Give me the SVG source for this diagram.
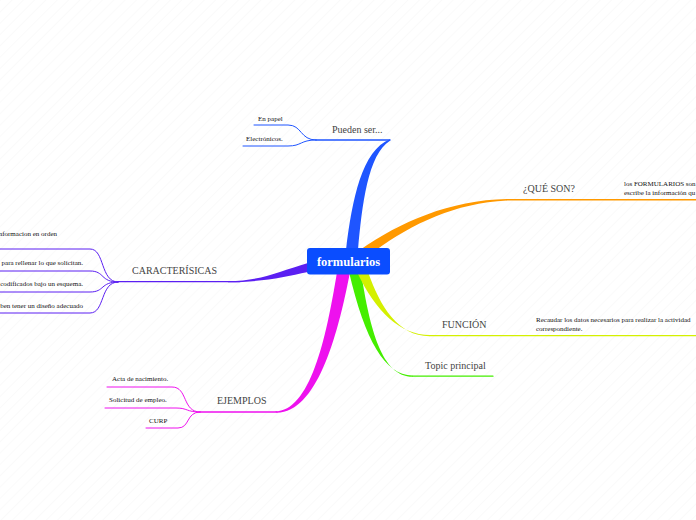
<svg xmlns="http://www.w3.org/2000/svg" width="696" height="520" viewBox="0 0 696 520">
<defs>
<pattern id="bg" width="8" height="8" patternUnits="userSpaceOnUse" patternTransform="rotate(45)">
<line x1="0" y1="0" x2="0" y2="8" stroke="#f5f5f5" stroke-width="1"/>
</pattern>
</defs>
<style>
.lbl{font-family:"Liberation Serif","Times New Roman",serif;font-size:10px;fill:#444}
.sub{font-family:"Liberation Serif","Times New Roman",serif;font-size:7px;fill:#111}
.ln{fill:none;stroke-linecap:round}
</style>
<rect width="696" height="520" fill="#fff"/>
<rect width="696" height="520" fill="url(#bg)"/>
<g id="connectors">
<path d="M346,250 C352,200 362,150 390,139.3 L390,140.7 C368,154 362,205 358,250 Z" fill="#1f55ff"/>
<path class="ln" d="M316,140 L390,140" stroke="#1f55ff" stroke-width="1.5"/>
<path class="ln" d="M316,140 C300,140 302,125 288,125 L254,125" stroke="#1f55ff" stroke-width="1"/>
<path class="ln" d="M316,140 C300,140 302,146 288,146 L243,146" stroke="#1f55ff" stroke-width="1"/>
<path d="M360,250 C400,222 450,200 507,199 L507,200.5 C455,203 412,224 376,250 Z" fill="#ff9900"/>
<path class="ln" d="M507,199.7 L696,199.7" stroke="#ff9900" stroke-width="1.4"/>
<path d="M308,263 C280,271 262,281 228,281 L228,282.2 C262,282.2 284,277 308,272 Z" fill="#5b1ff2"/>
<path class="ln" d="M118,281.6 L240,281.6" stroke="#5b1ff2" stroke-width="1.3"/>
<path class="ln" d="M118,282 C100,282 105,249 90,249 L0,249" stroke="#5b1ff2" stroke-width="1"/>
<path class="ln" d="M118,282 C100,282 105,271 90,271 L0,271" stroke="#5b1ff2" stroke-width="1"/>
<path class="ln" d="M118,282 C100,282 105,292 90,292 L0,292" stroke="#5b1ff2" stroke-width="1"/>
<path class="ln" d="M118,282 C100,282 105,313 90,313 L0,313" stroke="#5b1ff2" stroke-width="1"/>
<path d="M337,272 C326,340 310,411 275,411.5 L277,412.7 C316,412 337,340 350,272 Z" fill="#ee11ee"/>
<path class="ln" d="M200,412 L277,412" stroke="#ee11ee" stroke-width="1.3"/>
<path class="ln" d="M200,412 C182,412 188,387 172,387 L107,387" stroke="#ee11ee" stroke-width="1"/>
<path class="ln" d="M200,412 C186,412 188,408 176,408 L105,408" stroke="#ee11ee" stroke-width="1"/>
<path class="ln" d="M200,412 C186,412 190,428 178,428 L146,428" stroke="#ee11ee" stroke-width="1"/>
<path d="M349,272 C365,340 385,376 413,375.5 L413,376.8 C382,377 370,330 361,272 Z" fill="#44ee00"/>
<path class="ln" d="M413,376.2 L493,376.2" stroke="#44ee00" stroke-width="1.2"/>
<path d="M357,272 C376,312 400,335 430,335 L430,336.2 C398,336.5 380,306 368,272 Z" fill="#d4f000"/>
<path class="ln" d="M430,335.6 L696,335.6" stroke="#d4f000" stroke-width="1.3"/>
</g>
<g id="node-central">
<rect x="307" y="248" width="83" height="26.5" rx="3" fill="#0a4dff"/>
<text x="348.5" y="265.5" text-anchor="middle" style="font-family:'Liberation Serif','Times New Roman',serif;font-size:12.5px;font-weight:bold;fill:#fff">formularios</text>
</g>
<g id="node-pueden"><text class="lbl" x="332" y="133">Pueden ser...</text></g>
<g id="node-enpapel"><text class="sub" x="258" y="120.5">En papel</text></g>
<g id="node-electronicos"><text class="sub" x="246" y="141">Electrónicos.</text></g>
<g id="node-queson"><text class="lbl" x="523" y="192">¿QUÉ SON?</text></g>
<g id="node-queson-desc">
<text class="sub" x="624" y="186">los FORMULARIOS son</text>
<text class="sub" x="624" y="194.5">escribe la información qu</text>
</g>
<g id="node-caracteristicas"><text class="lbl" x="132" y="273.5">CARACTERÍSICAS</text></g>
<g id="node-car1"><text class="sub" x="57" y="236" text-anchor="end">nformacion en orden</text></g>
<g id="node-car2"><text class="sub" x="83" y="265" text-anchor="end">para rellenar lo que solicitan.</text></g>
<g id="node-car3"><text class="sub" x="83" y="286" text-anchor="end">codificados bajo un esquema.</text></g>
<g id="node-car4"><text class="sub" x="83" y="307.5" text-anchor="end">ben tener un diseño adecuado</text></g>
<g id="node-ejemplos"><text class="lbl" x="217" y="404">EJEMPLOS</text></g>
<g id="node-acta"><text class="sub" x="112" y="381">Acta de nacimiento.</text></g>
<g id="node-solicitud"><text class="sub" x="109" y="402">Solicitud de empleo.</text></g>
<g id="node-curp"><text class="sub" x="149" y="423">CURP</text></g>
<g id="node-funcion"><text class="lbl" x="442" y="328">FUNCIÓN</text></g>
<g id="node-funcion-desc">
<text class="sub" x="536" y="322">Recaudar los datos necesarios para realizar la actividad</text>
<text class="sub" x="536" y="330.5">correspondiente.</text>
</g>
<g id="node-topic"><text class="lbl" x="425" y="368.5">Topic principal</text></g>
</svg>
